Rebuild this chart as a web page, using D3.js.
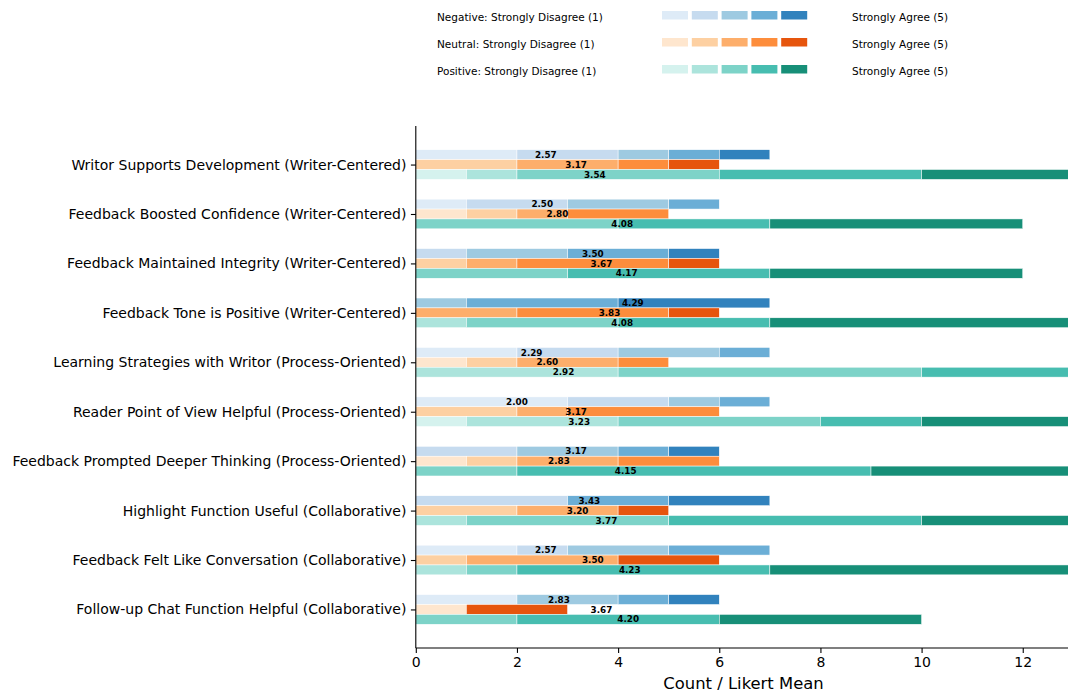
<!DOCTYPE html>
<html>
<head>
<meta charset="utf-8">
<script src="https://cdn.jsdelivr.net/npm/d3@7"></script>
<style>
  html, body { margin: 0; padding: 0; background: #fff; }
  svg { display: block; font-family: "DejaVu Sans", sans-serif; }
</style>
</head>
<body>
<svg id="chart" width="1068" height="696"></svg>
<script>
const categories = [
  "Writor Supports Development (Writer-Centered)",
  "Feedback Boosted Confidence (Writer-Centered)",
  "Feedback Maintained Integrity (Writer-Centered)",
  "Feedback Tone is Positive (Writer-Centered)",
  "Learning Strategies with Writor (Process-Oriented)",
  "Reader Point of View Helpful (Process-Oriented)",
  "Feedback Prompted Deeper Thinking (Process-Oriented)",
  "Highlight Function Useful (Collaborative)",
  "Feedback Felt Like Conversation (Collaborative)",
  "Follow-up Chat Function Helpful (Collaborative)"
];
// counts of Likert 1..5 per category
const negativeCounts = [[2,2,1,1,1],[1,2,2,1,0],[0,1,2,2,1],[0,0,1,3,3],[2,2,2,1,0],[3,2,1,1,0],[0,2,2,1,1],[0,3,0,2,2],[2,1,2,2,0],[2,0,2,1,1]];
const neutralCounts  = [[0,2,2,1,1],[1,1,1,2,0],[0,1,1,3,1],[0,0,2,3,1],[1,1,2,1,0],[0,2,1,3,0],[1,1,2,2,0],[0,2,2,0,1],[0,1,3,0,2],[1,0,0,0,2]];
const positiveCounts = [[1,1,4,4,3],[0,0,4,3,5],[0,0,3,4,5],[0,1,3,3,6],[0,4,6,3,0],[1,3,4,2,3],[0,0,2,7,4],[0,1,4,5,3],[0,1,1,5,6],[0,0,2,4,4]];
const negativeMeans = [2.57,2.50,3.50,4.29,2.29,2.00,3.17,3.43,2.57,2.83];
const neutralMeans  = [3.17,2.80,3.67,3.83,2.60,3.17,2.83,3.20,3.50,3.67];
const positiveMeans = [3.54,4.08,4.17,4.08,2.92,3.23,4.15,3.77,4.23,4.20];
const xTicks = [0,2,4,6,8,10,12];
const seriesNames = ["Negative","Neutral","Positive"];
const blues   = ["#deebf7","#c6dbef","#9ecae1","#6baed6","#3182bd"];
const oranges = ["#fee6ce","#fdd0a2","#fdae6b","#fd8d3c","#e6550d"];
const teals   = ["#d5f2ee","#ace4dc","#7dd3c8","#47bdb0","#178f78"];

const svg = d3.select("#chart");
const x = d3.scaleLinear().domain([0, 13.65]).range([415.8, 1106.2]);
const y = d3.scaleLinear().domain([-0.78, 9.78]).range([126, 648]);
const barH = 0.2;

const series = [
  {name: seriesNames[0], counts: negativeCounts, means: negativeMeans, colors: blues, off: -0.2},
  {name: seriesNames[1], counts: neutralCounts, means: neutralMeans, colors: oranges, off: 0},
  {name: seriesNames[2], counts: positiveCounts, means: positiveMeans, colors: teals, off: 0.2}
];

const plot = svg.append("g");
series.forEach(s => {
  categories.forEach((c, i) => {
    const stacked = d3.cumsum(s.counts[i]);
    s.counts[i].forEach((v, k) => {
      if (v <= 0) return;
      const x0 = stacked[k] - v;
      plot.append("rect")
        .attr("x", x(x0))
        .attr("width", x(x0 + v) - x(x0))
        .attr("y", y(i + s.off - barH / 2))
        .attr("height", y(i + s.off + barH / 2) - y(i + s.off - barH / 2))
        .attr("fill", s.colors[k])
        .attr("stroke", "#ffffff")
        .attr("stroke-width", 0.5);
    });
  });
});
series.forEach(s => {
  categories.forEach((c, i) => {
    plot.append("text")
      .attr("x", x(s.means[i]))
      .attr("y", y(i + s.off))
      .attr("dy", "0.36em")
      .attr("text-anchor", "middle")
      .attr("font-size", "8.8px")
      .attr("font-weight", "bold")
      .attr("fill", "#000")
      .text(s.means[i].toFixed(2));
  });
});

// axes
const yAxis = svg.append("g").attr("transform", `translate(${x(0)},0)`)
  .call(d3.axisLeft(d3.scaleLinear().domain(y.domain()).range(y.range()))
    .tickValues(d3.range(categories.length))
    .tickFormat(i => categories[i])
    .tickSize(4.9).tickPadding(4.5));
yAxis.select(".domain").attr("stroke", "#000").attr("stroke-width", 1.1).attr("d", `M0,${y.range()[0]}V${y.range()[1]}`);
yAxis.selectAll(".tick line").attr("stroke", "#000").attr("stroke-width", 1.1);
yAxis.selectAll(".tick text").attr("font-size", "14px").attr("fill", "#000").attr("font-family", "DejaVu Sans");

const xAxis = svg.append("g").attr("transform", `translate(0,${y.range()[1]})`)
  .call(d3.axisBottom(x).tickValues(xTicks).tickFormat(d3.format("d")).tickSize(4.9).tickPadding(4.5));
xAxis.select(".domain").attr("stroke", "#000").attr("stroke-width", 1.1).attr("d", `M${x.range()[0]},0H${x.range()[1]}`);
xAxis.selectAll(".tick line").attr("stroke", "#000").attr("stroke-width", 1.1);
xAxis.selectAll(".tick text").attr("font-size", "14px").attr("fill", "#000").attr("font-family", "DejaVu Sans");

svg.append("text")
  .attr("x", 743.5).attr("y", 689)
  .attr("text-anchor", "middle")
  .attr("font-size", "16.4px")
  .attr("fill", "#000")
  .text("Count / Likert Mean");

// legend
const legend = svg.append("g");
series.forEach((s, r) => {
  const cy = 17 + r * 27;
  legend.append("text").attr("x", 437).attr("y", cy).attr("dy", "0.36em")
    .attr("font-size", "10.5px").attr("fill", "#000")
    .text(`${s.name}: Strongly Disagree (1)`);
  s.colors.forEach((col, k) => {
    legend.append("rect")
      .attr("x", 662 + k * 29.8).attr("y", cy - 6)
      .attr("width", 26).attr("height", 8.5)
      .attr("fill", col);
  });
  legend.append("text").attr("x", 852).attr("y", cy).attr("dy", "0.36em")
    .attr("font-size", "10.5px").attr("fill", "#000")
    .text("Strongly Agree (5)");
});
</script>
</body>
</html>
